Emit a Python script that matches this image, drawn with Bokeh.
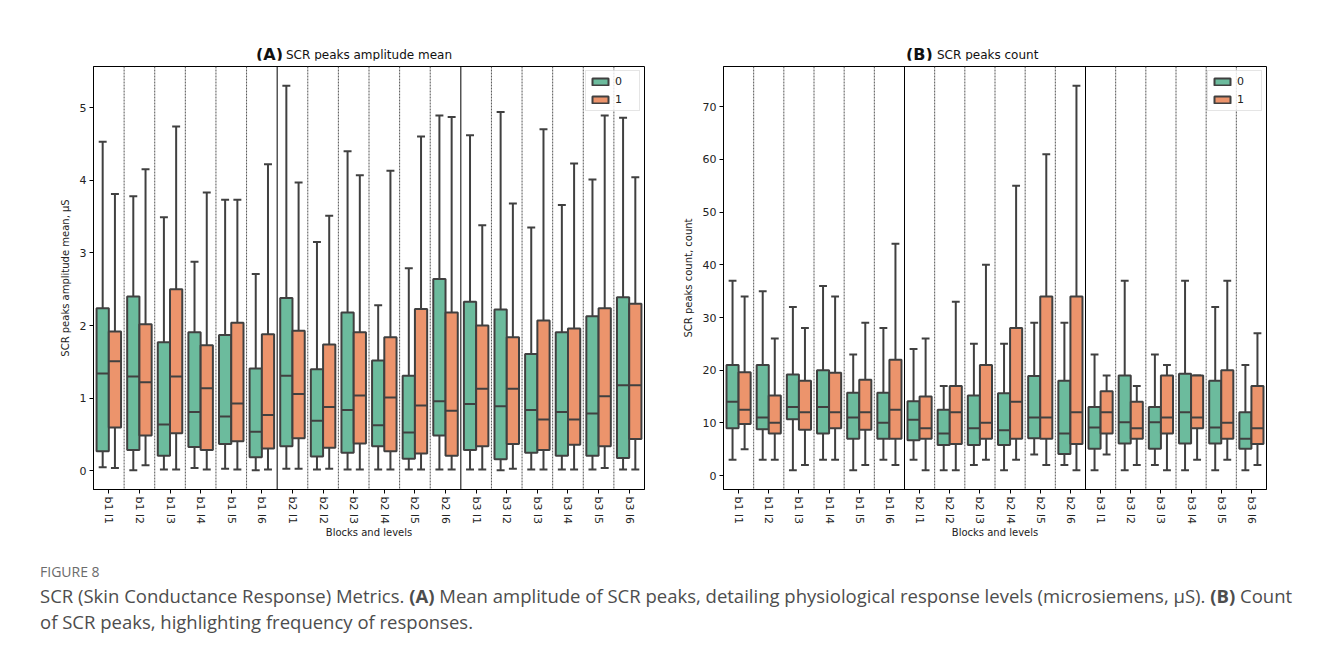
from bokeh.plotting import figure
from bokeh.models import (ColumnDataSource, Span, Legend, LegendItem,
                          FactorRange, Range1d, Div)
from bokeh.transform import dodge
from bokeh.layouts import row, column
from bokeh.embed import file_html
from bokeh.resources import INLINE

levels = ["b1 l1", "b1 l2", "b1 l3", "b1 l4", "b1 l5", "b1 l6",
          "b2 l1", "b2 l2", "b2 l3", "b2 l4", "b2 l5", "b2 l6",
          "b3 l1", "b3 l2", "b3 l3", "b3 l4", "b3 l5", "b3 l6"]
hues = ["0", "1"]

# Panel A: SCR peaks amplitude mean (uS)
a0_hi = [4.53, 3.78, 3.49, 2.88, 3.73, 2.71, 5.30, 3.15, 4.40, 2.28, 2.79, 4.89, 4.62, 4.94, 3.35, 3.66, 4.01, 4.86]
a0_q3 = [2.24, 2.40, 1.77, 1.91, 1.87, 1.41, 2.38, 1.40, 2.18, 1.52, 1.31, 2.64, 2.33, 2.22, 1.61, 1.91, 2.13, 2.39]
a0_med = [1.34, 1.30, 0.64, 0.81, 0.75, 0.54, 1.31, 0.69, 0.84, 0.63, 0.53, 0.96, 0.92, 0.89, 0.84, 0.81, 0.79, 1.18]
a0_q1 = [0.27, 0.29, 0.21, 0.33, 0.37, 0.19, 0.34, 0.20, 0.25, 0.34, 0.17, 0.49, 0.29, 0.16, 0.25, 0.21, 0.21, 0.18]
a0_lo = [0.05, 0.01, 0.02, 0.04, 0.03, 0.01, 0.03, 0.02, 0.02, 0.02, 0.02, 0.02, 0.02, 0.01, 0.02, 0.02, 0.02, 0.02]

a1_hi = [3.81, 4.15, 4.74, 3.83, 3.73, 4.22, 3.97, 3.51, 4.07, 4.13, 4.60, 4.87, 3.38, 3.68, 4.70, 4.23, 4.89, 4.04]
a1_q3 = [1.92, 2.02, 2.50, 1.73, 2.04, 1.88, 1.93, 1.74, 1.91, 1.84, 2.23, 2.18, 2.00, 1.84, 2.07, 1.96, 2.24, 2.30]
a1_med = [1.51, 1.22, 1.30, 1.14, 0.93, 0.77, 1.06, 0.88, 1.04, 1.01, 0.90, 0.83, 1.13, 1.13, 0.71, 0.71, 1.03, 1.18]
a1_q1 = [0.60, 0.49, 0.52, 0.29, 0.41, 0.31, 0.45, 0.32, 0.38, 0.27, 0.24, 0.21, 0.34, 0.37, 0.29, 0.36, 0.34, 0.44]
a1_lo = [0.04, 0.08, 0.02, 0.02, 0.02, 0.02, 0.03, 0.03, 0.02, 0.02, 0.02, 0.02, 0.02, 0.03, 0.02, 0.02, 0.04, 0.02]

# Panel B: SCR peaks count
b0_hi = [37, 35, 32, 36, 23, 28, 24, 17, 25, 25, 29, 29, 23, 37, 23, 37, 32, 21]
b0_q3 = [21, 21, 19.2, 20, 15.7, 15.7, 14.1, 12.5, 15.2, 15.6, 18.9, 18, 13, 19, 13, 19.3, 18, 12]
b0_med = [14, 11, 13, 13, 11, 10, 10.6, 8, 9, 8.6, 11, 8, 9.1, 10.1, 10.1, 12, 9.1, 7]
b0_q1 = [9, 8.8, 10.7, 8, 7, 7, 6.7, 5.8, 5.8, 5.8, 7.1, 4.1, 5.1, 6.1, 5.1, 6.1, 6.1, 5.1]
b0_lo = [3, 3, 1, 3, 1, 3, 3, 1, 2, 1, 4, 2, 1, 1, 2, 1, 1, 1]

b1_hi = [34, 26, 28, 34, 29, 44, 26, 33, 40, 55, 61, 74, 19, 17, 21, 19, 37, 27]
b1_q3 = [19.6, 15.2, 18, 19.5, 18.2, 22, 15, 17, 21, 28, 34, 34, 16, 14, 19, 19, 20, 17]
b1_med = [12.5, 10, 12, 12, 12, 12.5, 9, 12, 10, 14, 11, 12, 12, 9, 11, 11, 10, 9]
b1_q1 = [9.8, 8, 8.7, 9, 8.7, 7, 7, 6, 7, 7, 7, 6, 8, 7, 8, 9, 7, 6]
b1_lo = [5, 3, 2, 3, 2, 2, 1, 1, 3, 3, 2, 1, 4, 2, 1, 3, 3, 2]

a_yticks = [0, 1, 2, 3, 4, 5]
b_yticks = [0, 10, 20, 30, 40, 50, 60, 70]

COLORS = ["#6cbb9d", "#ec946c"]
EDGE = "#404040"
FONT = "DejaVu Sans"


def make_panel(ylabel, yticks, stats, width, bl, br):
    lo_all = min(min(s[0]) for s in stats)
    hi_all = max(max(s[4]) for s in stats)
    pad = 0.05 * (hi_all - lo_all)
    p = figure(width=width, height=488, output_backend="svg", toolbar_location=None,
               title=None,
               x_range=FactorRange(factors=levels),
               y_range=Range1d(lo_all - pad, hi_all + pad),
               min_border_left=bl, min_border_right=br,
               min_border_top=6, min_border_bottom=59)
    p.background_fill_color = "white"
    p.border_fill_color = "white"
    p.outline_line_color = "black"
    p.outline_line_width = 1
    p.outline_line_alpha = 1
    p.grid.visible = False

    renderers = []
    for h, (lo, q1, med, q3, hi) in enumerate(stats):
        off = -0.2 if h == 0 else 0.2
        src = ColumnDataSource(dict(cat=levels, lo=lo, q1=q1, med=med, q3=q3, hi=hi))
        xc = dodge("cat", off, range=p.x_range)
        xl = dodge("cat", off - 0.2, range=p.x_range)
        xr = dodge("cat", off + 0.2, range=p.x_range)
        cl = dodge("cat", off - 0.13, range=p.x_range)
        cr = dodge("cat", off + 0.13, range=p.x_range)
        p.segment(x0=xc, x1=xc, y0="q3", y1="hi", source=src, line_color=EDGE, line_width=2)
        p.segment(x0=xc, x1=xc, y0="lo", y1="q1", source=src, line_color=EDGE, line_width=2)
        p.segment(x0=cl, x1=cr, y0="hi", y1="hi", source=src, line_color=EDGE, line_width=2)
        p.segment(x0=cl, x1=cr, y0="lo", y1="lo", source=src, line_color=EDGE, line_width=2)
        r = p.vbar(x=xc, width=0.4, bottom="q1", top="q3", source=src,
                   fill_color=COLORS[h], line_color=EDGE, line_width=2)
        p.segment(x0=xl, x1=xr, y0="med", y1="med", source=src, line_color=EDGE, line_width=2)
        renderers.append(r)

    for k in range(1, len(levels)):
        if k % 6 == 0:
            p.add_layout(Span(location=k, dimension="height", line_color="black", line_width=1))
        else:
            p.add_layout(Span(location=k, dimension="height", line_color="#555555",
                              line_width=1, line_dash="2 1"))

    legend = Legend(items=[LegendItem(label=hues[i], renderers=[renderers[i]]) for i in range(2)],
                    location="top_right")
    legend.border_line_color = "#cccccc"
    legend.border_line_width = 1
    legend.background_fill_alpha = 0.8
    legend.label_text_font = FONT
    legend.label_text_font_size = "11px"
    legend.label_text_color = "#222222"
    legend.glyph_width = 20
    legend.glyph_height = 9
    legend.label_height = 9
    legend.spacing = 5
    legend.padding = 4
    legend.margin = 4
    legend.label_standoff = 5
    p.add_layout(legend)

    p.yaxis.ticker = yticks
    for ax in (p.xaxis[0], p.yaxis[0]):
        ax.axis_line_color = "black"
        ax.major_tick_line_color = "black"
        ax.major_tick_out = 4
        ax.major_tick_in = 0
        ax.minor_tick_line_color = None
        ax.major_label_text_font = FONT
        ax.major_label_text_font_size = "11px"
        ax.major_label_text_color = "#222222"
        ax.axis_label_text_font = FONT
        ax.axis_label_text_font_size = "10px"
        ax.axis_label_text_font_style = "normal"
        ax.axis_label_text_color = "#222222"
        ax.major_label_standoff = 3
    p.xaxis.major_label_orientation = "vertical"
    p.xaxis.axis_label = "Blocks and levels"
    p.xaxis.axis_label_standoff = 0
    p.yaxis.axis_label = ylabel
    p.yaxis.axis_label_standoff = 6
    return p


pa = make_panel("SCR peaks amplitude mean, μS", a_yticks,
                [(a0_lo, a0_q1, a0_med, a0_q3, a0_hi), (a1_lo, a1_q1, a1_med, a1_q3, a1_hi)],
                665, 93, 21)
pb = make_panel("SCR peaks count, count", b_yticks,
                [(b0_lo, b0_q1, b0_med, b0_q3, b0_hi), (b1_lo, b1_q1, b1_med, b1_q3, b1_hi)],
                664, 58, 63)

titles = Div(width=1329, height=60, margin=0, text=(
    "<div style=\"position:relative; width:1329px; height:60px; font-family:'DejaVu Sans'; color:#111;\">"
    "<span style='position:absolute; left:256px; top:47px; font-size:16px; font-weight:bold; line-height:16px;'>(A)</span>"
    "<span style='position:absolute; left:286px; top:49px; font-size:12px; line-height:12px;'>SCR peaks amplitude mean</span>"
    "<span style='position:absolute; left:906px; top:47px; font-size:16px; font-weight:bold; line-height:16px;'>(B)</span>"
    "<span style='position:absolute; left:937px; top:49px; font-size:12px; line-height:12px;'>SCR peaks count</span>"
    "</div>"))

caption = Div(width=1329, height=104, margin=0, text=(
    "<div style=\"font-family:'Open Sans'; padding-left:40px; padding-top:14px;\">"
    "<div style='font-size:14px; color:#6b6b6b; margin-bottom:1px;'>FIGURE 8</div>"
    "<div style='font-size:18.5px; line-height:26px; color:#4d4d4d;'>"
    "SCR (Skin Conductance Response) Metrics. <b>(A)</b> Mean amplitude of SCR peaks, detailing "
    "physiological response levels (microsiemens, μS). <b>(B)</b> Count<br>"
    "of SCR peaks, highlighting frequency of responses.</div></div>"))

layout = column(titles, row(pa, pb), caption)
open("out.html", "w").write(file_html(layout, INLINE))
